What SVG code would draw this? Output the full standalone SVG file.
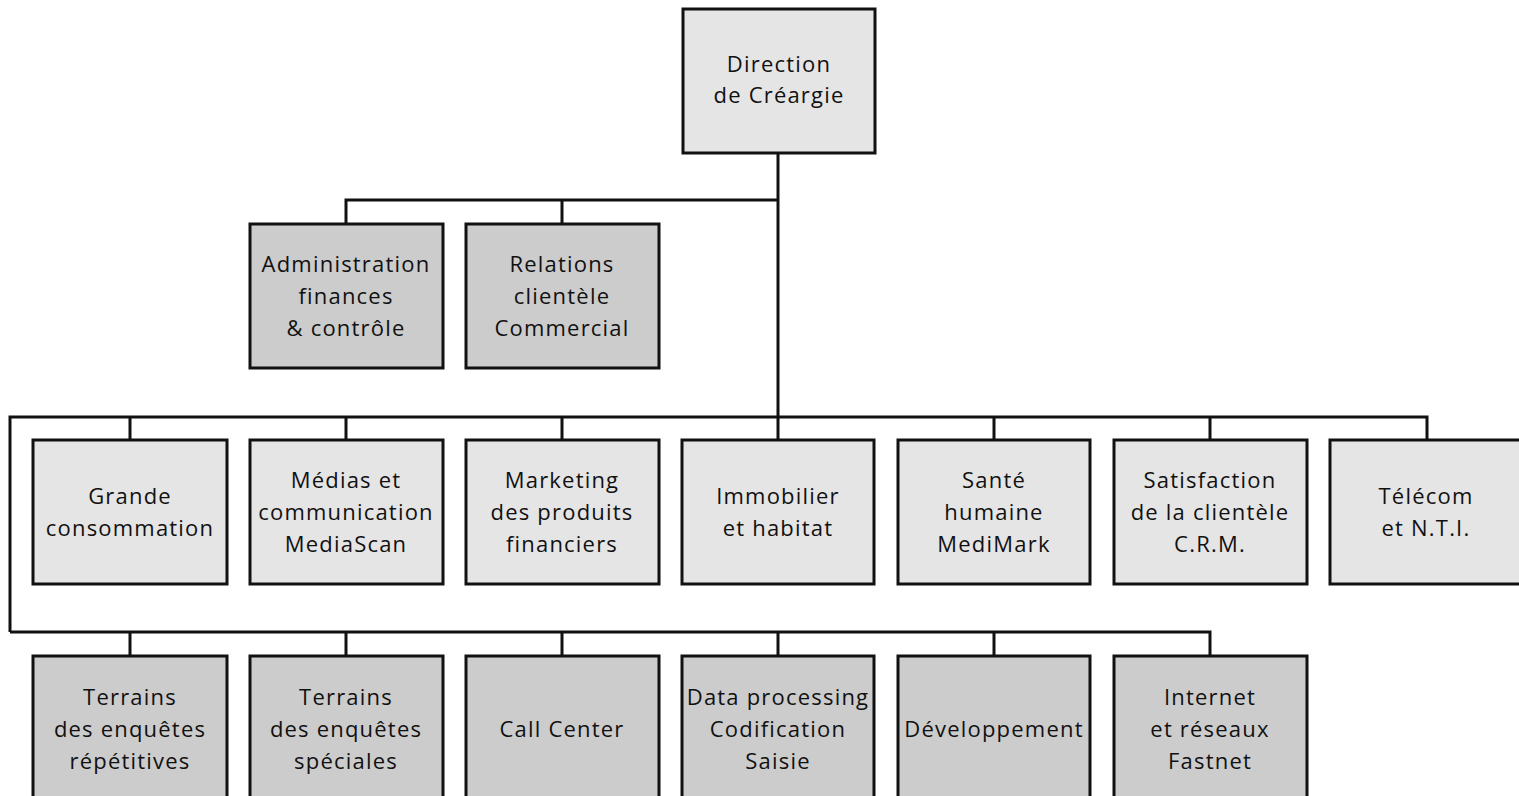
<svg xmlns="http://www.w3.org/2000/svg" width="1519" height="796" viewBox="0 0 1519 796">
<style>
.light{fill:#e5e5e5;stroke:#111;stroke-width:3}
.dark{fill:#cccccc;stroke:#111;stroke-width:3}
.ln{fill:none;stroke:#111;stroke-width:3}
text{font-family:"Open Sans","Liberation Sans",sans-serif;font-size:22px;letter-spacing:1.2px;fill:#111;text-anchor:middle}
</style>
<rect width="1519" height="796" fill="#fff"/>
<g id="connectors">
<path class="ln" d="M778 153V440"/>
<path class="ln" d="M346 224V200H778"/>
<path class="ln" d="M562 224V200"/>
<path class="ln" d="M10 632V417H1427V440"/>
<path class="ln" d="M130 417V440M346 417V440M562 417V440M994 417V440M1210 417V440"/>
<path class="ln" d="M10 632H1210V656"/>
<path class="ln" d="M130 632V656M346 632V656M562 632V656M778 632V656M994 632V656"/>
</g>
<g id="direction"><rect class="light" x="683" y="9" width="192" height="144"/><text x="779" y="72">Direction</text><text x="779" y="103">de Créargie</text></g>
<g id="admin"><rect class="dark" x="250" y="224" width="193" height="144"/><text x="346" y="272">Administration</text><text x="346" y="304">finances</text><text x="346" y="336">&amp; contrôle</text></g>
<g id="relations"><rect class="dark" x="466" y="224" width="193" height="144"/><text x="562" y="272">Relations</text><text x="562" y="304">clientèle</text><text x="562" y="336">Commercial</text></g>
<g id="grande"><rect class="light" x="33" y="440" width="194" height="144"/><text x="130" y="504">Grande</text><text x="130" y="536">consommation</text></g>
<g id="medias"><rect class="light" x="250" y="440" width="193" height="144"/><text x="346" y="488">Médias et</text><text x="346" y="520">communication</text><text x="346" y="552">MediaScan</text></g>
<g id="marketing"><rect class="light" x="466" y="440" width="193" height="144"/><text x="562" y="488">Marketing</text><text x="562" y="520">des produits</text><text x="562" y="552">financiers</text></g>
<g id="immobilier"><rect class="light" x="682" y="440" width="192" height="144"/><text x="778" y="504">Immobilier</text><text x="778" y="536">et habitat</text></g>
<g id="sante"><rect class="light" x="898" y="440" width="192" height="144"/><text x="994" y="488">Santé</text><text x="994" y="520">humaine</text><text x="994" y="552">MediMark</text></g>
<g id="satisfaction"><rect class="light" x="1114" y="440" width="193" height="144"/><text x="1210" y="488">Satisfaction</text><text x="1210" y="520">de la clientèle</text><text x="1210" y="552">C.R.M.</text></g>
<g id="telecom"><rect class="light" x="1330" y="440" width="194" height="144"/><text x="1426" y="504">Télécom</text><text x="1426" y="536">et N.T.I.</text></g>
<g id="terrains-rep"><rect class="dark" x="33" y="656" width="194" height="146"/><text x="130" y="705">Terrains</text><text x="130" y="737">des enquêtes</text><text x="130" y="769">répétitives</text></g>
<g id="terrains-spe"><rect class="dark" x="250" y="656" width="193" height="146"/><text x="346" y="705">Terrains</text><text x="346" y="737">des enquêtes</text><text x="346" y="769">spéciales</text></g>
<g id="callcenter"><rect class="dark" x="466" y="656" width="193" height="146"/><text x="562" y="737">Call Center</text></g>
<g id="dataprocessing"><rect class="dark" x="682" y="656" width="192" height="146"/><text x="778" y="705">Data processing</text><text x="778" y="737">Codification</text><text x="778" y="769">Saisie</text></g>
<g id="developpement"><rect class="dark" x="898" y="656" width="192" height="146"/><text x="994" y="737">Développement</text></g>
<g id="internet"><rect class="dark" x="1114" y="656" width="193" height="146"/><text x="1210" y="705">Internet</text><text x="1210" y="737">et réseaux</text><text x="1210" y="769">Fastnet</text></g>
</svg>
